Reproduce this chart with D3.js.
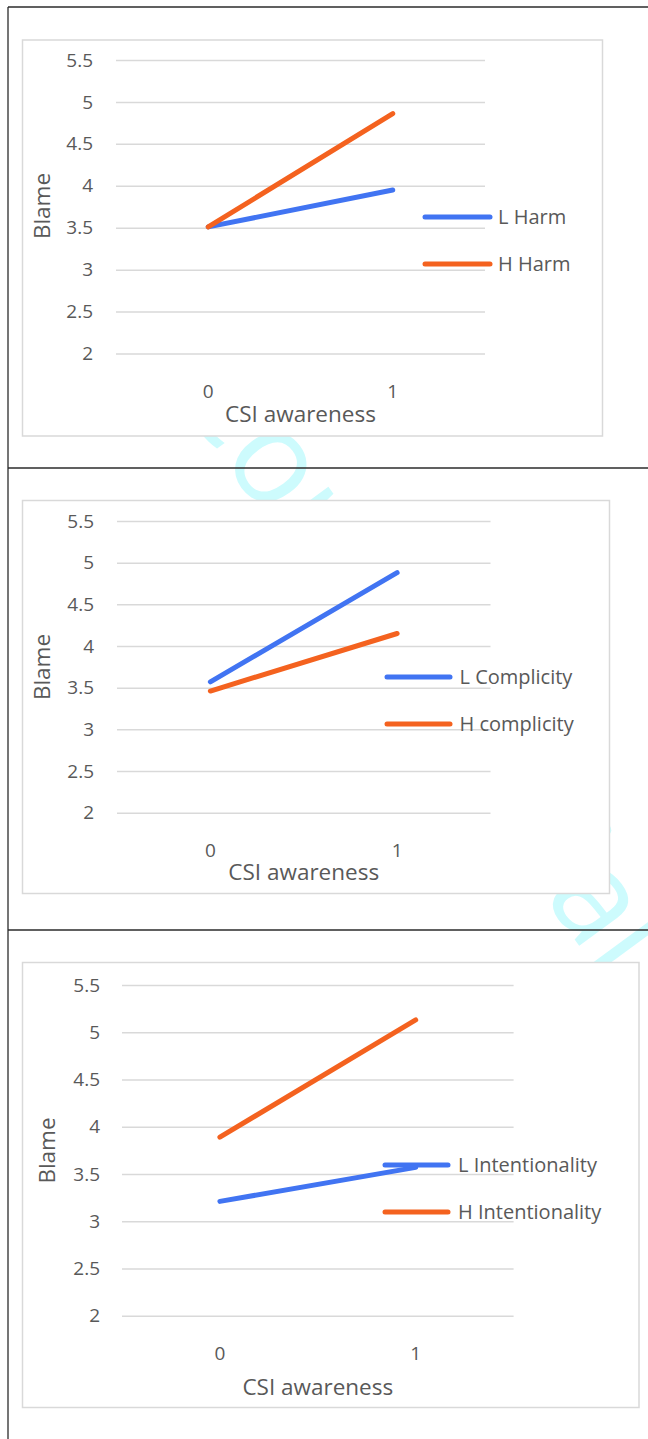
<!DOCTYPE html>
<html>
<head>
<meta charset="utf-8">
<script src="https://cdn.jsdelivr.net/npm/d3@7"></script>
<style>
	body { margin: 0; background: #fff; }
	svg text { font-family: "Open Sans", sans-serif; fill: #595959; }
</style>
</head>
<body>
<div id="chart"></div>
<script>
// data
const awareness = ["0", "1"]
const blameTicks = [2, 2.5, 3, 3.5, 4, 4.5, 5, 5.5]

const harmNames = ["L Harm", "H Harm"]
const harmLow = [3.51, 3.95]
const harmHigh = [3.51, 4.86]

const complicityNames = ["L Complicity", "H complicity"]
const complicityLow = [3.57, 4.88]
const complicityHigh = [3.46, 4.15]

const intentNames = ["L Intentionality", "H Intentionality"]
const intentLow = [3.21, 3.57]
const intentHigh = [3.89, 5.13]

const colors = ["#4174f2", "#f4621f"]

// layout of the three panels (page pixels)
const panels = [
	{ names: harmNames, series: [harmLow, harmHigh],
		box: [22.5, 40, 580, 396], gx: [116, 485], gy: [353.5, 60],
		tickX: 93, tickDy: 38, titleDy: 61, blame: [42.5, 206],
		leg: [425, 490, 498], legY: [217, 264] },
	{ names: complicityNames, series: [complicityLow, complicityHigh],
		box: [22.5, 500.5, 587, 393], gx: [117, 490.5], gy: [812.7, 521],
		tickX: 94, tickDy: 38, titleDy: 59, blame: [42.5, 667],
		leg: [387, 450, 459.5], legY: [677, 724] },
	{ names: intentNames, series: [intentLow, intentHigh],
		box: [22.5, 962.5, 616.5, 445], gx: [122, 513.6], gy: [1315.7, 985],
		tickX: 100, tickDy: 38, titleDy: 71, blame: [47.5, 1150.5],
		leg: [385, 448, 458], legY: [1165, 1212] }
]

const width = 648
const height = 1439

const svg = d3.select("#chart")
	.append("svg")
	.attr("width", width)
	.attr("height", height)

// faint page watermark, mostly hidden behind the chart areas
svg.append("text")
	.attr("transform", "translate(171,390) rotate(53.7)")
	.style("font-size", "130px")
	.style("fill", "#cdfbfd")
	.text("Confidential")

// table frame around the figures
const frame = svg.append("g")
	.attr("stroke", "#2b2b2b")
	.attr("stroke-width", 1.3)
frame.append("line").attr("x1", 8).attr("y1", 7).attr("x2", 8).attr("y2", height)
;[7, 468, 930].forEach(function(y) {
	frame.append("line").attr("x1", 8).attr("y1", y).attr("x2", width).attr("y2", y)
})

panels.forEach(drawPanel)

function drawPanel(p) {
	const g = svg.append("g")

	// chart area
	g.append("rect")
		.attr("x", p.box[0])
		.attr("y", p.box[1])
		.attr("width", p.box[2])
		.attr("height", p.box[3])
		.attr("fill", "#fff")
		.attr("stroke", "#d9d9d9")
		.attr("stroke-width", 1.5)

	const x = d3.scaleBand()
		.domain(awareness)
		.range(p.gx)
	const y = d3.scaleLinear()
		.domain([2, 5.5])
		.range(p.gy)

	// gridlines + y labels
	const yAxis = g.append("g")
		.attr("transform", `translate(${p.gx[0]},0)`)
		.call(d3.axisLeft(y)
			.tickValues(blameTicks)
			.tickSize(-(p.gx[1] - p.gx[0]))
			.tickPadding(p.gx[0] - p.tickX)
			.tickFormat(d3.format("")))
	yAxis.select(".domain").remove()
	yAxis.selectAll(".tick line")
		.attr("stroke", "#d9d9d9")
		.attr("stroke-width", 1.5)
	yAxis.selectAll(".tick text")
		.style("font-size", "19px")
		.attr("fill", "#595959")

	// category labels
	const xAxis = g.append("g")
		.attr("transform", `translate(0,${p.gy[0]})`)
		.call(d3.axisBottom(x).tickSize(0).tickPadding(0))
	xAxis.select(".domain").remove()
	xAxis.selectAll(".tick text")
		.attr("y", p.tickDy)
		.attr("dy", "0.35em")
		.style("font-size", "19px")
		.attr("fill", "#595959")

	// axis titles
	g.append("text")
		.attr("x", (p.gx[0] + p.gx[1]) / 2)
		.attr("y", p.gy[0] + p.titleDy)
		.attr("dy", "0.35em")
		.attr("text-anchor", "middle")
		.style("font-size", "22.5px")
		.text("CSI awareness")
	g.append("text")
		.attr("transform", `translate(${p.blame[0]},${p.blame[1]}) rotate(-90)`)
		.attr("dy", "0.35em")
		.attr("text-anchor", "middle")
		.style("font-size", "22.5px")
		.text("Blame")

	// the two lines
	const line = d3.line()
		.x((d, i) => x(awareness[i]) + x.bandwidth() / 2)
		.y(d => y(d))
	g.selectAll(".series")
		.data(p.series)
		.join("path")
		.attr("class", "series")
		.attr("d", line)
		.attr("fill", "none")
		.attr("stroke", (d, i) => colors[i])
		.attr("stroke-width", 5)
		.attr("stroke-linecap", "round")

	// legend
	const leg = g.selectAll(".leg")
		.data(p.names)
		.join("g")
		.attr("class", "leg")
		.attr("transform", (d, i) => `translate(0,${p.legY[i]})`)
	leg.append("line")
		.attr("x1", p.leg[0])
		.attr("x2", p.leg[1])
		.attr("stroke", (d, i) => colors[i])
		.attr("stroke-width", 5)
		.attr("stroke-linecap", "round")
	leg.append("text")
		.attr("x", p.leg[2])
		.attr("dy", "0.35em")
		.style("font-size", "20px")
		.text(d => d)
}
</script>
</body>
</html>
